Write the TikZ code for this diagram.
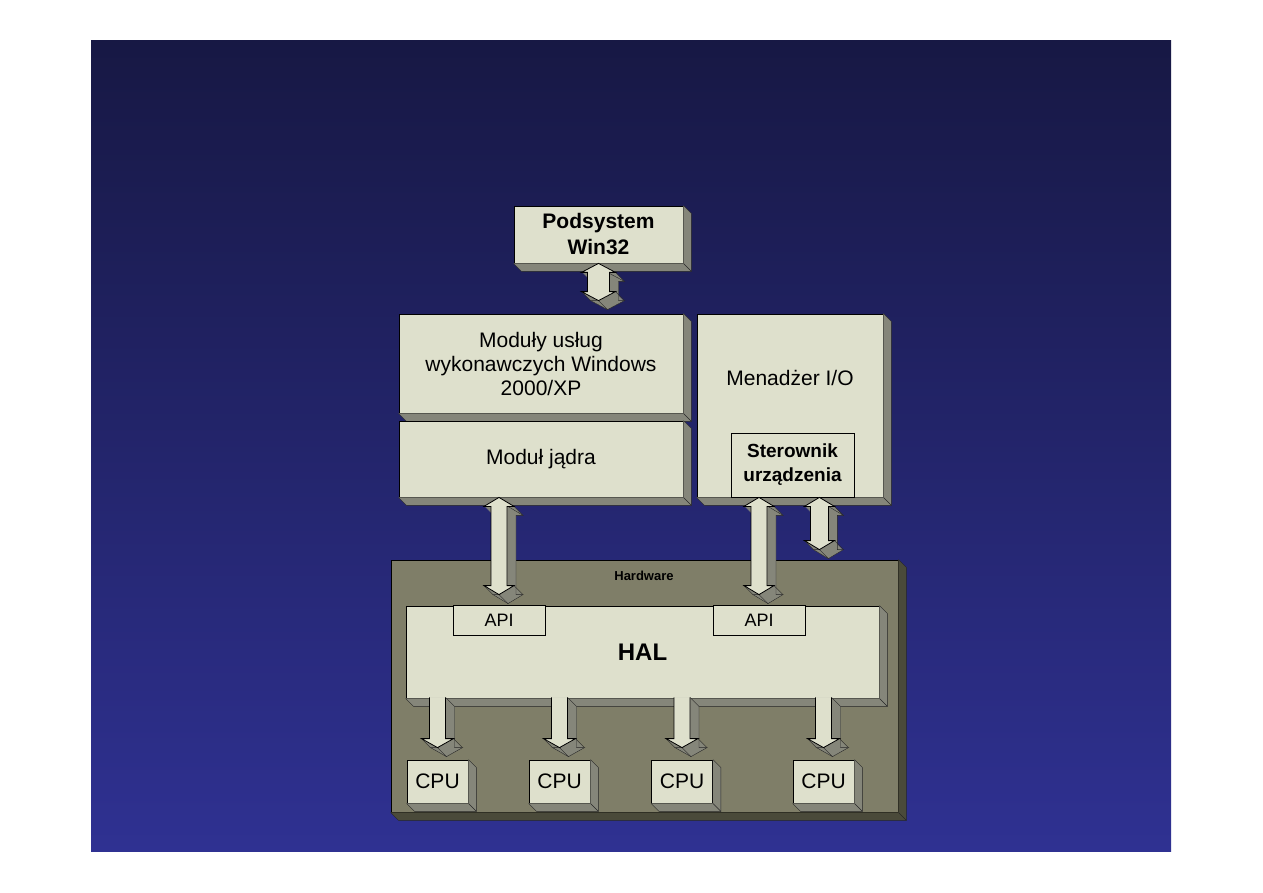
\documentclass[tikz,border=0pt]{standalone}
\usepackage{fontspec}
\setmainfont{Liberation Sans}
\usetikzlibrary{calc}
\definecolor{bgtop}{RGB}{23,24,68}
\definecolor{bgbot}{RGB}{47,49,146}
\definecolor{facec}{RGB}{222,224,204}
\definecolor{sidec}{RGB}{133,134,122}
\definecolor{hwc}{RGB}{127,126,104}
\definecolor{hwside}{RGB}{74,74,58}
\newcommand\fs[2]{\fontsize{#1}{#2}\selectfont}
% extrusion of a box node
\newcommand\extr[2][sidec]{%
 \fill[#1] (#2.north east) -- ($(#2.north east)+(8,8)$) -- ($(#2.south east)+(8,8)$) -- ($(#2.south west)+(8,8)$) -- (#2.south west) -- (#2.south east) -- cycle;
 \draw[edge] (#2.north east) -- ($(#2.north east)+(8,8)$) -- ($(#2.south east)+(8,8)$) -- ($(#2.south west)+(8,8)$) -- (#2.south west);
 \draw[edge] (#2.south east) -- ($(#2.south east)+(8,8)$);}
\newcommand\arrpoly[1]{($(T1)+(#1,#1)$)--($(T2)+(#1,#1)$)--($(T3)+(#1,#1)$)--($(T4)+(#1,#1)$)--($(T5)+(#1,#1)$)--($(T6)+(#1,#1)$)--($(T7)+(#1,#1)$)--($(T8)+(#1,#1)$)--($(T9)+(#1,#1)$)--($(T10)+(#1,#1)$)--cycle}
\newcommand\arropen[1]{($(T3)+(#1,#1)$)--($(T4)+(#1,#1)$)--($(T5)+(#1,#1)$)--($(T6)+(#1,#1)$)--($(T7)+(#1,#1)$)--($(T8)+(#1,#1)$)--($(T9)+(#1,#1)$)}
\newcommand\arrside{%
 \foreach \k in {0.5,1,...,9}{\fill[sidec] \arrpoly{\k};}
 \draw[edge] (T2)--($(T2)+(9,9)$) (T5)--($(T5)+(9,9)$) (T6)--($(T6)+(9,9)$) (T7)--($(T7)+(9,9)$);}
% double block arrow: #1 top tip, #2 bottom tip, #3 half shaft, #4 half head
\newcommand\darrow[4]{%
 \path let \p1=(#1), \p2=(#2) in
  (\x1,\y1) coordinate (T1)
  (\x1+#4pt,\y1-9pt) coordinate (T2)
  (\x1+#3pt,\y1-9pt) coordinate (T3)
  (\x1+#3pt,\y2+9pt) coordinate (T4)
  (\x1+#4pt,\y2+9pt) coordinate (T5)
  (\x1,\y2) coordinate (T6)
  (\x1-#4pt,\y2+9pt) coordinate (T7)
  (\x1-#3pt,\y2+9pt) coordinate (T8)
  (\x1-#3pt,\y1-9pt) coordinate (T9)
  (\x1-#4pt,\y1-9pt) coordinate (T10);
 \arrside
 \draw[edge] \arrpoly{9};
 \fill[facec] \arrpoly{0};
 \draw[line width=0.8pt] \arrpoly{0};}
% single down block arrow: #1 flat top, #2 tip
\newcommand\sarrow[4]{%
 \path let \p1=(#1), \p2=(#2) in
  (\x1,\y1+1pt) coordinate (T1)
  (\x1+#3pt,\y1+1pt) coordinate (T2)
  (\x1+#3pt,\y1+1pt) coordinate (T3)
  (\x1+#3pt,\y2+9pt) coordinate (T4)
  (\x1+#4pt,\y2+9pt) coordinate (T5)
  (\x1,\y2) coordinate (T6)
  (\x1-#4pt,\y2+9pt) coordinate (T7)
  (\x1-#3pt,\y2+9pt) coordinate (T8)
  (\x1-#3pt,\y1+1pt) coordinate (T9)
  (\x1-#3pt,\y1+1pt) coordinate (T10);
 \arrside
 \draw[edge] \arropen{9};
 \fill[facec] \arrpoly{0};
 \draw[line width=0.8pt] \arropen{0};}
\begin{document}
\begin{tikzpicture}[x=1pt,y=-1pt,
  box/.style={draw=black, line width=0.8pt, fill=facec, inner sep=0pt, align=center, text=black, font=\fs{21}{24}},
  edge/.style={draw=black!85, line width=0.4pt},
  lbl/.style={inner sep=0pt, align=center, text=black}]
\useasboundingbox (0,0) rectangle (1263,893);
\fill[white] (0,0) rectangle (1263,893);
\shade[top color=bgtop, bottom color=bgbot] (91,41) rectangle (1171,851);

% upper boxes
\node[box, font=\fs{21}{26}\bfseries, minimum width=169, minimum height=57] (win) at (598.5,234.5) {Podsystem\\Win32};
\extr{win}
\node[box, minimum width=284, minimum height=99] (mod) at (541,363.5) {Moduły usług\\wykonawczych Windows\\2000/XP};
\extr{mod}
\node[box, minimum width=284, minimum height=76] (jadra) at (541,459) {Moduł jądra};
\extr{jadra}
\node[box, minimum width=186, minimum height=183] (menad) at (790,405.5) {};
\extr{menad}
\node[lbl, font=\fs{21}{24}] (menadtxt) at (790,378) {Menadżer I/O};
\node[box, font=\fs{19}{24}\bfseries, minimum width=123, minimum height=64] (ster) at (792.5,465) {Sterownik\\urządzenia};

% hardware
\node[box, fill=hwc, minimum width=507, minimum height=252] (hw) at (644.5,686) {};
\extr[hwside]{hw}
\node[lbl, font=\fs{13}{15}\bfseries] (hwtxt) at (644,576) {Hardware};
\node[box, font=\fs{24}{28}\bfseries, minimum width=473, minimum height=92] (hal) at (642.5,652) {HAL};
\extr{hal}
\node[box, font=\fs{18}{20}, minimum width=92, minimum height=30] (api1) at (499,620) {API};
\node[box, font=\fs{18}{20}, minimum width=92, minimum height=30] (api2) at (759,620) {API};

% CPUs
\node[box, minimum width=61, minimum height=43] (cpu1) at (437.5,781.5) {CPU};
\extr{cpu1}
\node[box, minimum width=61, minimum height=43] (cpu2) at (559.5,781.5) {CPU};
\extr{cpu2}
\node[box, minimum width=61, minimum height=43] (cpu3) at (682,781.5) {CPU};
\extr{cpu3}
\node[box, minimum width=61, minimum height=43] (cpu4) at (823.5,781.5) {CPU};
\extr{cpu4}

% block arrows
\coordinate (m3top) at ($(ster.south east)+(-35,0)$);
\coordinate (m3bot) at ($(m3top |- hw.north)+(0,-10)$);
\darrow{win.south}{$(win.south |- mod.north)+(0,-13)$}{11}{17}
\darrow{api1.north |- jadra.south}{$(api1.north)+(0,-10)$}{8}{15}
\darrow{api2.north |- ster.south}{$(api2.north)+(0,-10)$}{8}{15}
\darrow{m3top}{m3bot}{9}{15}
\sarrow{cpu1.north |- hal.south}{$(cpu1.north)+(0,-12)$}{8}{16}
\sarrow{cpu2.north |- hal.south}{$(cpu2.north)+(0,-12)$}{8}{16}
\sarrow{cpu3.north |- hal.south}{$(cpu3.north)+(0,-12)$}{8}{16}
\sarrow{cpu4.north |- hal.south}{$(cpu4.north)+(0,-12)$}{8}{16}
\end{tikzpicture}
\end{document}
